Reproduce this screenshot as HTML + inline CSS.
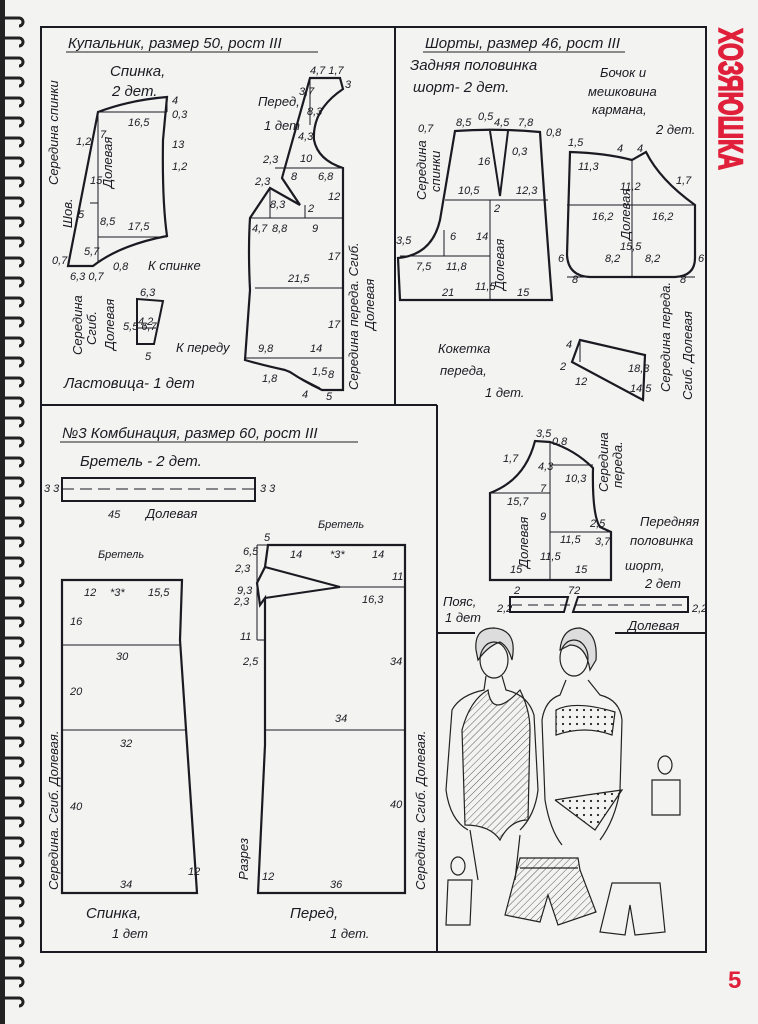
<!DOCTYPE html>
<html><head><meta charset="utf-8"><style>
html,body{margin:0;padding:0;background:#f3f3f1;}
svg{display:block}
text{font-family:"Liberation Sans","DejaVu Sans",sans-serif;font-style:italic;fill:#1a1a22}
.t{font-size:15px}.s{font-size:11px}.m{font-size:13px}
</style></head><body>
<svg width="758" height="1024" viewBox="0 0 758 1024" xmlns="http://www.w3.org/2000/svg">
<defs>
<pattern id="hat" width="5" height="5" patternUnits="userSpaceOnUse" patternTransform="rotate(45)"><line x1="0" y1="0" x2="0" y2="5" stroke="#333" stroke-width="0.8"/></pattern>
<pattern id="dots" width="7" height="7" patternUnits="userSpaceOnUse"><circle cx="3" cy="3" r="1.1" fill="#222"/></pattern>
</defs>
<rect width="758" height="1024" fill="#f3f3f1"/>
<rect x="0" y="0" width="5" height="1024" fill="#222"/>
<g stroke="#222" stroke-width="3" fill="none">
<path d="M5 18 h14 a4 4 0 0 1 0 8"/><path d="M5 38 h14 a4 4 0 0 1 0 8"/><path d="M5 58 h14 a4 4 0 0 1 0 8"/><path d="M5 78 h14 a4 4 0 0 1 0 8"/><path d="M5 98 h14 a4 4 0 0 1 0 8"/><path d="M5 118 h14 a4 4 0 0 1 0 8"/><path d="M5 138 h14 a4 4 0 0 1 0 8"/><path d="M5 158 h14 a4 4 0 0 1 0 8"/><path d="M5 178 h14 a4 4 0 0 1 0 8"/><path d="M5 198 h14 a4 4 0 0 1 0 8"/><path d="M5 218 h14 a4 4 0 0 1 0 8"/><path d="M5 238 h14 a4 4 0 0 1 0 8"/><path d="M5 258 h14 a4 4 0 0 1 0 8"/><path d="M5 278 h14 a4 4 0 0 1 0 8"/><path d="M5 298 h14 a4 4 0 0 1 0 8"/><path d="M5 318 h14 a4 4 0 0 1 0 8"/><path d="M5 338 h14 a4 4 0 0 1 0 8"/><path d="M5 358 h14 a4 4 0 0 1 0 8"/><path d="M5 378 h14 a4 4 0 0 1 0 8"/><path d="M5 398 h14 a4 4 0 0 1 0 8"/><path d="M5 418 h14 a4 4 0 0 1 0 8"/><path d="M5 438 h14 a4 4 0 0 1 0 8"/><path d="M5 458 h14 a4 4 0 0 1 0 8"/><path d="M5 478 h14 a4 4 0 0 1 0 8"/><path d="M5 498 h14 a4 4 0 0 1 0 8"/><path d="M5 518 h14 a4 4 0 0 1 0 8"/><path d="M5 538 h14 a4 4 0 0 1 0 8"/><path d="M5 558 h14 a4 4 0 0 1 0 8"/><path d="M5 578 h14 a4 4 0 0 1 0 8"/><path d="M5 598 h14 a4 4 0 0 1 0 8"/><path d="M5 618 h14 a4 4 0 0 1 0 8"/><path d="M5 638 h14 a4 4 0 0 1 0 8"/><path d="M5 658 h14 a4 4 0 0 1 0 8"/><path d="M5 678 h14 a4 4 0 0 1 0 8"/><path d="M5 698 h14 a4 4 0 0 1 0 8"/><path d="M5 718 h14 a4 4 0 0 1 0 8"/><path d="M5 738 h14 a4 4 0 0 1 0 8"/><path d="M5 758 h14 a4 4 0 0 1 0 8"/><path d="M5 778 h14 a4 4 0 0 1 0 8"/><path d="M5 798 h14 a4 4 0 0 1 0 8"/><path d="M5 818 h14 a4 4 0 0 1 0 8"/><path d="M5 838 h14 a4 4 0 0 1 0 8"/><path d="M5 858 h14 a4 4 0 0 1 0 8"/><path d="M5 878 h14 a4 4 0 0 1 0 8"/><path d="M5 898 h14 a4 4 0 0 1 0 8"/><path d="M5 918 h14 a4 4 0 0 1 0 8"/><path d="M5 938 h14 a4 4 0 0 1 0 8"/><path d="M5 958 h14 a4 4 0 0 1 0 8"/><path d="M5 978 h14 a4 4 0 0 1 0 8"/><path d="M5 998 h14 a4 4 0 0 1 0 8"/>
</g>
<g stroke="#1a1a22" stroke-width="2" fill="none">
<rect x="41" y="27" width="665" height="925"/>
<line x1="395" y1="27" x2="395" y2="405"/>
<line x1="41" y1="405" x2="437" y2="405"/>
<line x1="437" y1="405" x2="437" y2="952"/>
<line x1="437" y1="633" x2="475" y2="633"/>
<line x1="615" y1="633" x2="706" y2="633"/>
</g>
<text x="0" y="0" transform="translate(719,28) rotate(90)" style="font-style:normal;font-weight:900;font-size:34px;fill:#e0203a;stroke:#e0203a;stroke-width:1.5" textLength="142" lengthAdjust="spacingAndGlyphs">ХОЗЯЮШКА</text>
<text x="728" y="988" style="font-style:normal;font-weight:bold;font-size:24px;fill:#e0203a">5</text>

<!-- ===== Купальник ===== -->
<text class="t" x="68" y="48">Купальник, размер 50, рост III</text>
<line x1="66" y1="52" x2="318" y2="52" stroke="#222" stroke-width="1"/>
<text class="t" x="110" y="76">Спинка,</text>
<text class="t" x="112" y="96">2 дет.</text>
<g stroke="#1a1a22" fill="none">
<path d="M98 112 Q130 100 167 97 L163 140 Q162 200 167 236 Q120 245 93 266 L68 266 Z" stroke-width="2.2"/>
<line x1="98" y1="112" x2="98" y2="262" stroke-width="1"/>
<line x1="90" y1="203" x2="98" y2="203" stroke-width="1"/>
<line x1="98" y1="237" x2="167" y2="237" stroke-width="1"/>
<line x1="98" y1="112" x2="167" y2="112" stroke-width="1"/>
<line x1="167" y1="97" x2="167" y2="112" stroke-width="1"/>
<path d="M137 299 L163 301 L154 344 L137 344 Z" stroke-width="2"/>
<line x1="137" y1="328" x2="156" y2="328" stroke-width="1"/>
<path d="M310 78 L340 78 L343 89 Q312 110 314 140 Q318 160 343 168 L343 390 L322 390 Q305 382 290 372 L285 370 Q262 365 245 360 L250 290 Q248 250 250 218 L270 188 L300 205 L282 178 Z" stroke-width="2.2"/>
<line x1="275" y1="168" x2="343" y2="168" stroke-width="1"/>
<line x1="250" y1="218" x2="343" y2="218" stroke-width="1"/>
<line x1="255" y1="288" x2="343" y2="288" stroke-width="1"/>
<line x1="245" y1="358" x2="343" y2="358" stroke-width="1"/>
<line x1="310" y1="78" x2="310" y2="125" stroke-width="1"/>
<line x1="270" y1="188" x2="270" y2="218" stroke-width="1"/>
<line x1="305" y1="205" x2="305" y2="218" stroke-width="1"/>
<line x1="285" y1="370" x2="320" y2="388" stroke-width="1"/>
</g>
<g class="s">
<text x="172" y="104">4</text><text x="172" y="118">0,3</text><text x="172" y="148">13</text><text x="172" y="170">1,2</text>
<text x="128" y="126">16,5</text><text x="100" y="138">7</text><text x="76" y="145">1,2</text>
<text x="90" y="184">15</text><text x="78" y="218">5</text><text x="100" y="225">8,5</text><text x="128" y="230">17,5</text>
<text x="84" y="255">5,7</text><text x="52" y="264">0,7</text><text x="70" y="280">6,3 0,7</text><text x="113" y="270">0,8</text>
<text x="140" y="296">6,3</text><text x="138" y="325">4,2</text><text x="145" y="360">5</text><text x="123" y="330">5,5 6,7</text>
<text x="310" y="74">4,7 1,7</text><text x="299" y="95">3,7</text><text x="345" y="88">3</text><text x="307" y="115">8,3</text><text x="298" y="140">4,3</text><text x="300" y="162">10</text>
<text x="263" y="163">2,3</text><text x="255" y="185">2,3</text><text x="291" y="180">8</text><text x="318" y="180">6,8</text><text x="328" y="200">12</text><text x="270" y="208">8,3</text><text x="308" y="212">2</text>
<text x="252" y="232">4,7</text><text x="272" y="232">8,8</text><text x="312" y="232">9</text><text x="328" y="260">17</text><text x="288" y="282">21,5</text><text x="328" y="328">17</text>
<text x="258" y="352">9,8</text><text x="310" y="352">14</text><text x="262" y="382">1,8</text><text x="312" y="375">1,5</text><text x="328" y="378">8</text><text x="302" y="398">4</text><text x="326" y="400">5</text>
</g>
<g class="m">
<text x="258" y="106">Перед,</text><text x="264" y="130">1 дет</text>
<text x="148" y="270">К спинке</text><text x="176" y="352">К переду</text>
<text x="64" y="388" class="t">Ластовица- 1 дет</text>
<text transform="translate(58,185) rotate(-90)">Середина спинки</text>
<text transform="translate(72,228) rotate(-90)">Шов.</text>
<text transform="translate(112,188) rotate(-90)">Долевая</text>
<text transform="translate(82,355) rotate(-90)">Середина</text>
<text transform="translate(96,345) rotate(-90)">Сгиб.</text>
<text transform="translate(114,350) rotate(-90)">Долевая</text>
<text transform="translate(358,390) rotate(-90)">Середина переда. Сгиб.</text>
<text transform="translate(374,330) rotate(-90)">Долевая</text>
</g>

<!-- ===== Шорты ===== -->
<text class="t" x="425" y="48">Шорты, размер 46, рост III</text>
<line x1="423" y1="52" x2="625" y2="52" stroke="#222" stroke-width="1"/>
<text class="t" x="410" y="70">Задняя половинка</text>
<text class="t" x="413" y="92">шорт- 2 дет.</text>
<text class="m" x="600" y="77">Бочок и</text>
<text class="m" x="588" y="96">мешковина</text>
<text class="m" x="592" y="114">кармана,</text>
<text class="m" x="656" y="134">2 дет.</text>
<g stroke="#1a1a22" fill="none">
<path d="M455 131 Q495 128 540 132 Q545 210 552 300 L400 300 L398 258 Q432 255 440 220 Z" stroke-width="2.2"/>
<path d="M490 131 L500 196 L508 131" stroke-width="2"/>
<line x1="445" y1="200" x2="548" y2="200" stroke-width="1"/>
<line x1="490" y1="200" x2="490" y2="300" stroke-width="1"/>
<line x1="400" y1="256" x2="490" y2="256" stroke-width="1"/>
<line x1="444" y1="230" x2="444" y2="256" stroke-width="1"/>
<path d="M570 152 Q605 153 632 160 L646 152 Q660 180 695 205 L695 258 Q695 276 675 277 L590 277 Q568 276 567 255 Z" stroke-width="2.2"/>
<line x1="567" y1="205" x2="695" y2="205" stroke-width="1"/>
<line x1="632" y1="160" x2="632" y2="277" stroke-width="1"/>
<line x1="567" y1="277" x2="695" y2="277" stroke-width="1"/>
<path d="M580 340 L645 355 L643 400 L572 362 Z" stroke-width="2.2"/>
<line x1="580" y1="340" x2="580" y2="362" stroke-width="1"/>
<path d="M490 493 Q525 480 535 441 L550 442 Q575 450 593 468 Q592 515 600 527 L611 532 L611 580 L490 580 Z" stroke-width="2.2"/>
<line x1="550" y1="442" x2="550" y2="580" stroke-width="1"/>
<line x1="550" y1="465" x2="593" y2="465" stroke-width="1"/>
<line x1="490" y1="493" x2="550" y2="493" stroke-width="1"/>
<line x1="550" y1="532" x2="611" y2="532" stroke-width="1"/>
<path d="M510 597 L568 597 L564 612 L510 612 Z" stroke-width="2"/>
<path d="M578 597 L688 597 L688 612 L573 612 Z" stroke-width="2"/>
<line x1="512" y1="605" x2="686" y2="605" stroke-width="1" stroke-dasharray="10 6"/>
</g>
<g class="s">
<text x="418" y="132">0,7</text><text x="456" y="126">8,5</text><text x="478" y="120">0,5</text><text x="494" y="126">4,5</text><text x="518" y="126">7,8</text><text x="546" y="136">0,8</text>
<text x="478" y="165">16</text><text x="512" y="155">0,3</text><text x="458" y="194">10,5</text><text x="516" y="194">12,3</text><text x="494" y="212">2</text>
<text x="396" y="244">3,5</text><text x="450" y="240">6</text><text x="476" y="240">14</text><text x="416" y="270">7,5</text><text x="446" y="270">11,8</text><text x="475" y="290">11,5</text><text x="442" y="296">21</text><text x="517" y="296">15</text>
<text x="568" y="146">1,5</text><text x="617" y="152">4</text><text x="637" y="152">4</text><text x="676" y="184">1,7</text><text x="578" y="170">11,3</text><text x="620" y="190">11,2</text>
<text x="592" y="220">16,2</text><text x="652" y="220">16,2</text><text x="620" y="250">15,5</text><text x="605" y="262">8,2</text><text x="645" y="262">8,2</text>
<text x="558" y="262">6</text><text x="698" y="262">6</text><text x="572" y="283">8</text><text x="680" y="283">8</text>
<text x="566" y="348">4</text><text x="560" y="370">2</text><text x="575" y="385">12</text><text x="628" y="372">18,3</text><text x="630" y="392">14,5</text>
<text x="536" y="437">3,5</text><text x="552" y="445">0,8</text><text x="503" y="462">1,7</text><text x="538" y="470">4,3</text><text x="540" y="492">7</text><text x="565" y="482">10,3</text>
<text x="507" y="505">15,7</text><text x="540" y="520">9</text><text x="590" y="527">2,5</text><text x="560" y="543">11,5</text><text x="595" y="545">3,7</text><text x="540" y="560">11,5</text><text x="510" y="573">15</text><text x="575" y="573">15</text>
<text x="514" y="594">2</text><text x="568" y="594">72</text><text x="497" y="612">2,2</text><text x="692" y="612">2,2</text>
</g>
<g class="m">
<text x="438" y="353">Кокетка</text><text x="440" y="375">переда,</text><text x="485" y="397">1 дет.</text>
<text transform="translate(670,392) rotate(-90)">Середина переда.</text>
<text transform="translate(692,400) rotate(-90)">Сгиб.  Долевая</text>
<text transform="translate(426,200) rotate(-90)">Середина</text>
<text transform="translate(440,192) rotate(-90)">спинки</text>
<text transform="translate(504,290) rotate(-90)">Долевая</text>
<text transform="translate(630,240) rotate(-90)">Долевая</text>
<text transform="translate(528,568) rotate(-90)">Долевая</text>
<text transform="translate(608,492) rotate(-90)">Середина</text>
<text transform="translate(622,488) rotate(-90)">переда.</text>
<text x="640" y="526">Передняя</text><text x="630" y="545">половинка</text><text x="625" y="570">шорт,</text><text x="645" y="588">2 дет</text>
<text x="443" y="606">Пояс,</text><text x="445" y="622">1 дет</text>
<text x="628" y="630">Долевая</text>
</g>

<!-- ===== Комбинация ===== -->
<text class="t" x="62" y="438">№3 Комбинация, размер 60, рост III</text>
<line x1="60" y1="442" x2="358" y2="442" stroke="#222" stroke-width="1"/>
<text class="t" x="80" y="466">Бретель - 2 дет.</text>
<g stroke="#1a1a22" fill="none">
<rect x="62" y="478" width="193" height="23" stroke-width="2"/>
<line x1="62" y1="489" x2="255" y2="489" stroke-width="1" stroke-dasharray="12 6"/>
<path d="M62 580 L182 580 L180 640 L197 893 L62 893 Z" stroke-width="2.2"/>
<line x1="62" y1="645" x2="181" y2="645" stroke-width="1"/>
<line x1="62" y1="730" x2="186" y2="730" stroke-width="1"/>
<path d="M268 545 L405 545 L405 893 L258 893 L265 745 L265 598 L260 605 L257 583 L265 567 Z" stroke-width="2.2"/>
<path d="M265 567 L340 587 L265 598" stroke-width="2"/>
<line x1="257" y1="545" x2="268" y2="545" stroke-width="1"/>
<line x1="257" y1="545" x2="257" y2="640" stroke-width="1"/>
<line x1="257" y1="640" x2="265" y2="640" stroke-width="1"/>
<line x1="340" y1="587" x2="405" y2="587" stroke-width="1"/>
<line x1="265" y1="730" x2="405" y2="730" stroke-width="1"/>
</g>
<g class="s">
<text x="44" y="492">3 3</text><text x="260" y="492">3 3</text><text x="108" y="518">45</text>
<text x="84" y="596">12</text><text x="110" y="596">*3*</text><text x="148" y="596">15,5</text><text x="70" y="625">16</text><text x="116" y="660">30</text><text x="70" y="695">20</text><text x="120" y="747">32</text><text x="70" y="810">40</text><text x="188" y="875">12</text><text x="120" y="888">34</text>
<text x="264" y="541">5</text><text x="243" y="555">6,5</text><text x="290" y="558">14</text><text x="330" y="558">*3*</text><text x="372" y="558">14</text><text x="392" y="580">11</text>
<text x="235" y="572">2,3</text><text x="237" y="594">9,3</text><text x="234" y="605">2,3</text><text x="362" y="603">16,3</text><text x="240" y="640">11</text><text x="243" y="665">2,5</text>
<text x="390" y="665">34</text><text x="335" y="722">34</text><text x="390" y="808">40</text><text x="262" y="880">12</text><text x="330" y="888">36</text>
</g>
<g class="m">
<text x="146" y="518">Долевая</text>
<text x="318" y="528" class="s">Бретель</text>
<text x="98" y="558" class="s">Бретель</text>
<text transform="translate(58,890) rotate(-90)">Середина.  Сгиб.  Долевая.</text>
<text transform="translate(425,890) rotate(-90)">Середина.  Сгиб.  Долевая.</text>
<text transform="translate(248,880) rotate(-90)">Разрез</text>
<text x="86" y="918" class="t">Спинка,</text><text x="112" y="938">1 дет</text>
<text x="290" y="918" class="t">Перед,</text><text x="330" y="938">1 дет.</text>
</g>

<!-- ===== Illustrations ===== -->
<g stroke="#222" stroke-width="1.2" fill="none">
<path d="M476 650 Q474 628 494 628 Q518 630 512 660 Q508 646 500 642 Q488 646 478 660 Z" fill="#ddd"/>
<ellipse cx="494" cy="660" rx="14" ry="18"/>
<path d="M486 676 L484 690 Q460 695 452 710 L446 790 Q450 820 468 830 M502 676 L506 690 Q528 695 534 715 L538 790 Q535 815 520 830"/>
<path d="M462 730 Q470 700 488 690 Q492 720 520 690 Q530 710 530 730 L528 820 Q510 820 500 840 Q490 825 465 825 Z" fill="url(#hat)"/>
<path d="M470 830 L478 880 M520 835 L515 880"/>
<path d="M560 650 Q562 628 580 628 Q598 632 596 660 L590 670 Q586 645 570 645 Z" fill="#ddd"/>
<ellipse cx="574" cy="658" rx="14" ry="18"/>
<path d="M566 680 L560 695 Q545 700 542 720 L545 800 Q550 830 562 845 M588 680 L600 695 Q620 700 622 720 L620 790 Q615 820 600 840"/>
<path d="M556 710 Q575 700 615 712 L612 735 Q585 725 556 735 Z" fill="url(#dots)"/>
<path d="M555 800 Q585 795 622 790 Q605 815 595 830 Q575 815 555 800" fill="url(#dots)"/>
<ellipse cx="665" cy="765" rx="7" ry="9"/><path d="M652 780 L652 815 L680 815 L680 780 Z"/>
<ellipse cx="458" cy="866" rx="7" ry="9"/><path d="M448 880 L446 925 L470 925 L472 880 Z"/>
<path d="M520 858 L578 858 L580 870 L596 912 L558 925 L548 895 L540 922 L505 915 Z" fill="url(#hat)"/>
<path d="M520 868 L578 868"/>
<path d="M612 883 L660 883 L665 932 L635 935 L630 905 L625 935 L600 932 Z"/>
</g>
</svg>
</body></html>
